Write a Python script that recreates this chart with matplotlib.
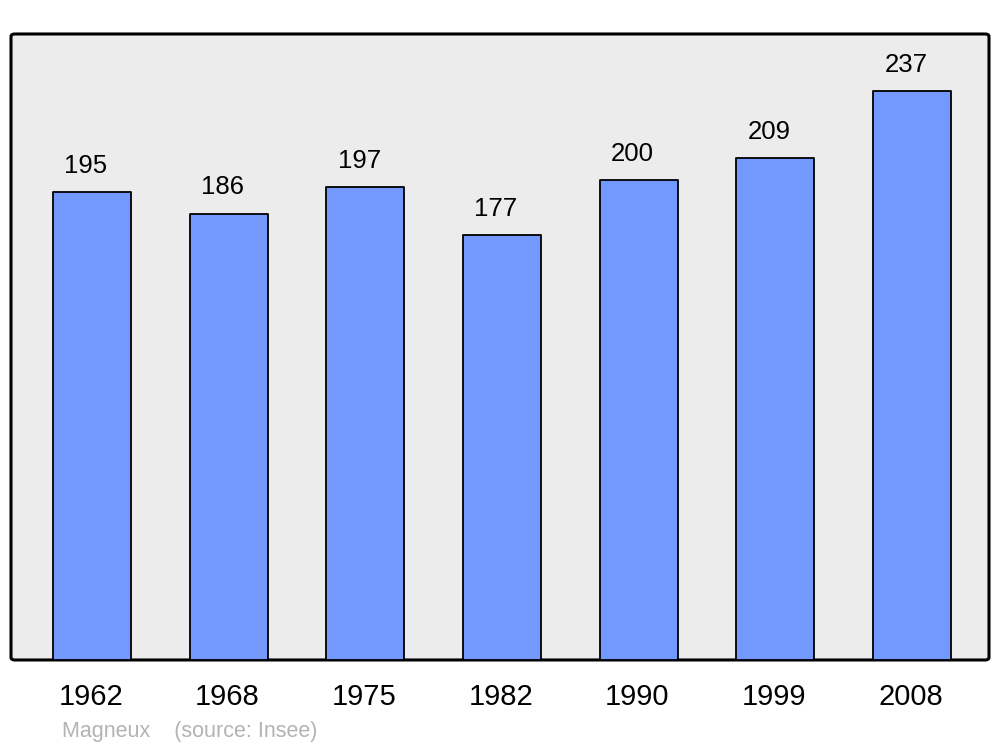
import matplotlib.pyplot as plt
from matplotlib.patches import FancyBboxPatch

plt.rcParams['font.family'] = ['Liberation Sans', 'DejaVu Sans']

# Population by census year
years = ['1962', '1968', '1975', '1982', '1990', '1999', '2008']
population = [195, 186, 197, 177, 200, 209, 237]

fig = plt.figure(figsize=(10, 7.47), dpi=100)
ax = fig.add_axes([0.011, 0.1165, 0.978, 0.838])
ax.set_facecolor('none')

# rounded grey frame
frame = FancyBboxPatch((0, 0), 1, 1, boxstyle='round,pad=0,rounding_size=0.004',
                       transform=ax.transAxes, facecolor='#ececec',
                       edgecolor='black', linewidth=2.2, zorder=0, clip_on=False)
ax.add_patch(frame)

x = list(range(len(years)))
ax.bar(x, population, width=0.57, color='#7399ff', edgecolor='black',
       linewidth=1.3, joinstyle='round', zorder=2)

for xi, v in zip(x, population):
    ax.annotate(str(v), (xi, v), xytext=(-4.5, 19), textcoords='offset points',
                ha='center', va='center', fontsize=18.5, color='black')
    ax.annotate(years[xi], (xi, 0), xytext=(-1, -26.5), textcoords='offset points',
                ha='center', va='center', fontsize=21, color='black',
                annotation_clip=False)

ax.set_xlim(-0.593, 6.563)
ax.set_ylim(0, 260.8)
ax.set_xticks([])
ax.set_yticks([])
for s in ax.spines.values():
    s.set_visible(False)

fig.text(0.062, 0.0202, 'Magneux    (source: Insee)', fontsize=15.5,
         color='#b3b3b3', ha='left', va='center')

fig.savefig('out.png', dpi=100)
